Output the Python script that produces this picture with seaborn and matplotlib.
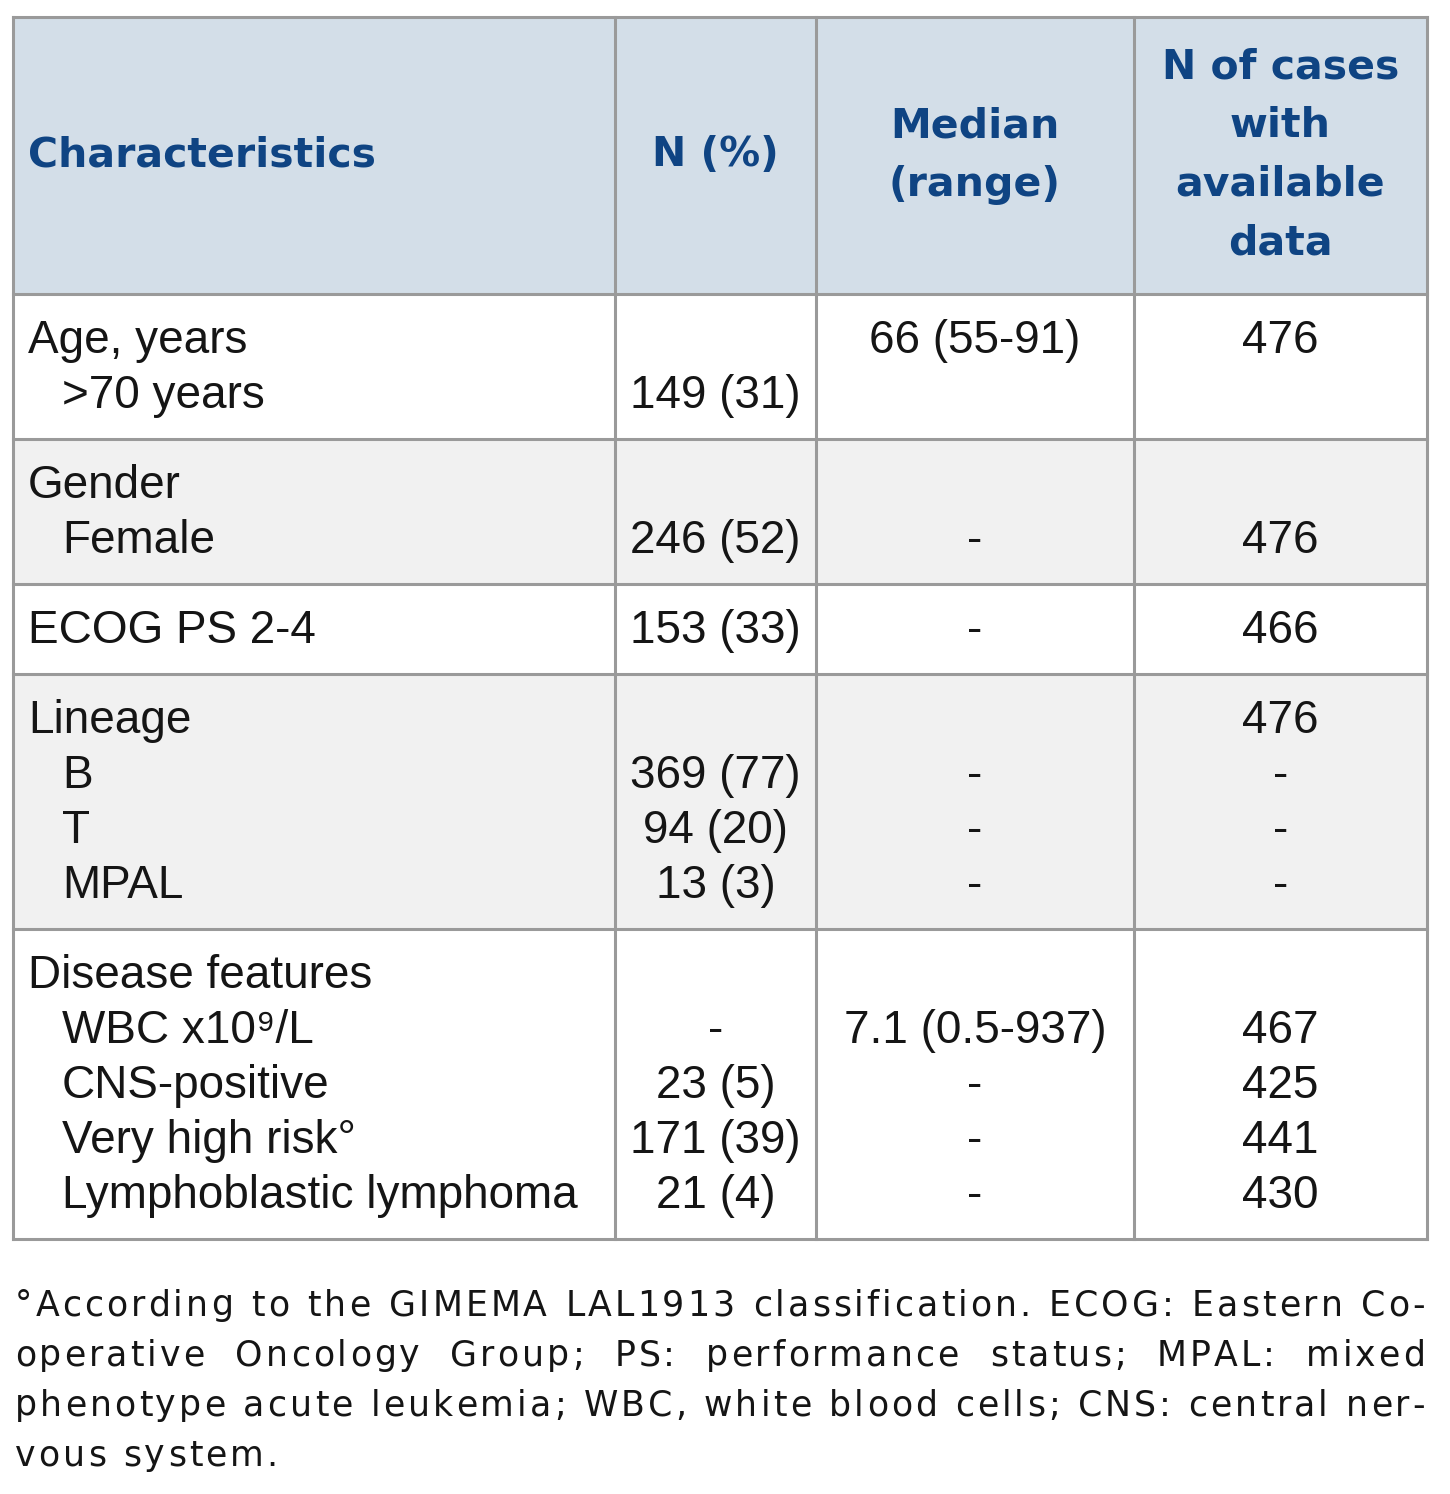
import matplotlib
matplotlib.use("Agg")
import matplotlib.pyplot as plt
import seaborn as sns
from matplotlib.patches import Rectangle
from matplotlib.font_manager import FontProperties, findfont
from matplotlib.ft2font import FT2Font

# table content
header = ["Characteristics", "N (%)", "Median\n(range)", "N of cases\nwith\navailable\ndata"]

group_labels = [
    ["Age, years", ">70 years"],
    ["Gender", "Female"],
    ["ECOG PS 2-4"],
    ["Lineage", "B", "T", "MPAL"],
    ["Disease features", "WBC x10⁹/L", "CNS-positive", "Very high risk°", "Lymphoblastic lymphoma"],
]
group_indent = [
    [False, True],
    [False, True],
    [False],
    [False, True, True, True],
    [False, True, True, True, True],
]
n_pct = [
    ["", "149 (31)"],
    ["", "246 (52)"],
    ["153 (33)"],
    ["", "369 (77)", "94 (20)", "13 (3)"],
    ["", "-", "23 (5)", "171 (39)", "21 (4)"],
]
median_range = [
    ["66 (55-91)", ""],
    ["", "-"],
    ["-"],
    ["", "-", "-", "-"],
    ["", "7.1 (0.5-937)", "-", "-", "-"],
]
n_available = [
    ["476", ""],
    ["", "476"],
    ["466"],
    ["476", "-", "-", "-"],
    ["", "467", "425", "441", "430"],
]
group_shaded = [False, True, False, True, False]

footnote_lines = [
    "°According to the GIMEMA LAL1913 classification. ECOG: Eastern Co-",
    "operative Oncology Group; PS: performance status; MPAL: mixed",
    "phenotype acute leukemia; WBC, white blood cells; CNS: central ner-",
    "vous system.",
]

sns.set_theme(style="white")
plt.rcParams['font.family'] = ['Liberation Sans', 'DejaVu Sans']

HEAD_BG = "#d3dee8"
SHADE_BG = "#f1f1f1"
HEAD_FG = "#0f4483"
GRID = "#9a9a9a"
TXT = "#151515"
BODY_FONT = ["Liberation Sans", "DejaVu Sans"]
BODY_SIZE = 33

fig = plt.figure(figsize=(14.5, 14.94), dpi=100)
ax = fig.add_axes([0, 0, 1, 1])
ax.set_xlim(0, 1450)
ax.set_ylim(1494, 0)
ax.axis("off")

col_x = [13, 615, 816, 1134, 1427]
top, head_bottom = 17, 294
line_h = 55
pad = 45

# header
ax.add_patch(Rectangle((col_x[0], top), col_x[-1] - col_x[0], head_bottom - top, facecolor=HEAD_BG, edgecolor="none", zorder=0))
head_mid = (top + head_bottom) / 2
for i, txt in enumerate(header):
    if i == 0:
        hx, ha = 28, "left"
    else:
        hx, ha = (col_x[i] + col_x[i + 1]) / 2, "center"
    ax.text(hx, head_mid, txt, ha=ha, va="center", fontsize=29.5, fontweight="bold", color=HEAD_FG,
            family=["DejaVu Sans"], linespacing=1.6, multialignment="center")

# body
y = head_bottom
row_edges = [top, head_bottom]
for g in range(len(group_labels)):
    n = len(group_labels[g])
    h = 2 * pad + line_h * (n - 1)
    if group_shaded[g]:
        ax.add_patch(Rectangle((col_x[0], y), col_x[-1] - col_x[0], h, facecolor=SHADE_BG, edgecolor="none", zorder=0))
    for k in range(n):
        ly = y + pad + k * line_h - 3
        lx = 62 if group_indent[g][k] else 28
        ax.text(lx, ly, group_labels[g][k], ha="left", va="center_baseline", fontsize=BODY_SIZE, color=TXT,
                family=BODY_FONT)
        for c, col in enumerate([n_pct, median_range, n_available]):
            cx = (col_x[c + 1] + col_x[c + 2]) / 2
            ax.text(cx, ly, col[g][k], ha="center", va="center_baseline", fontsize=BODY_SIZE, color=TXT,
                    family=BODY_FONT)
    y += h
    row_edges.append(y)

# grid lines
for ry in row_edges:
    ax.plot([col_x[0], col_x[-1]], [ry, ry], color=GRID, lw=2.2, solid_capstyle="projecting")
for cx in col_x:
    ax.plot([cx, cx], [top, row_edges[-1]], color=GRID, lw=2.2, solid_capstyle="projecting")

# footnote: letter-spaced and justified
FOOT_SIZE = 25
track = 3.0
ft = FT2Font(findfont(FontProperties(family="DejaVu Sans")))
ft.set_size(FOOT_SIZE, 100)


def adv(ch):
    return ft.load_char(ord(ch)).linearHoriAdvance / 65536


left, right = 15, 1425
for i, line in enumerate(footnote_lines):
    ly = 1302 + i * 50
    words = line.split(" ")
    word_w = [sum(adv(ch) + track for ch in w) - track for w in words]
    if i < len(footnote_lines) - 1:
        gap = (right - left - sum(word_w)) / (len(words) - 1)
    else:
        gap = adv(" ") + 2 * track
    x = left
    for w, ww in zip(words, word_w):
        cx = x
        for ch in w:
            ax.text(cx, ly, ch, ha="left", va="center_baseline", fontsize=FOOT_SIZE, color=TXT,
                    family=["DejaVu Sans"])
            cx += adv(ch) + track
        x += ww + gap

fig.savefig("out.png", dpi=100, facecolor="white")
